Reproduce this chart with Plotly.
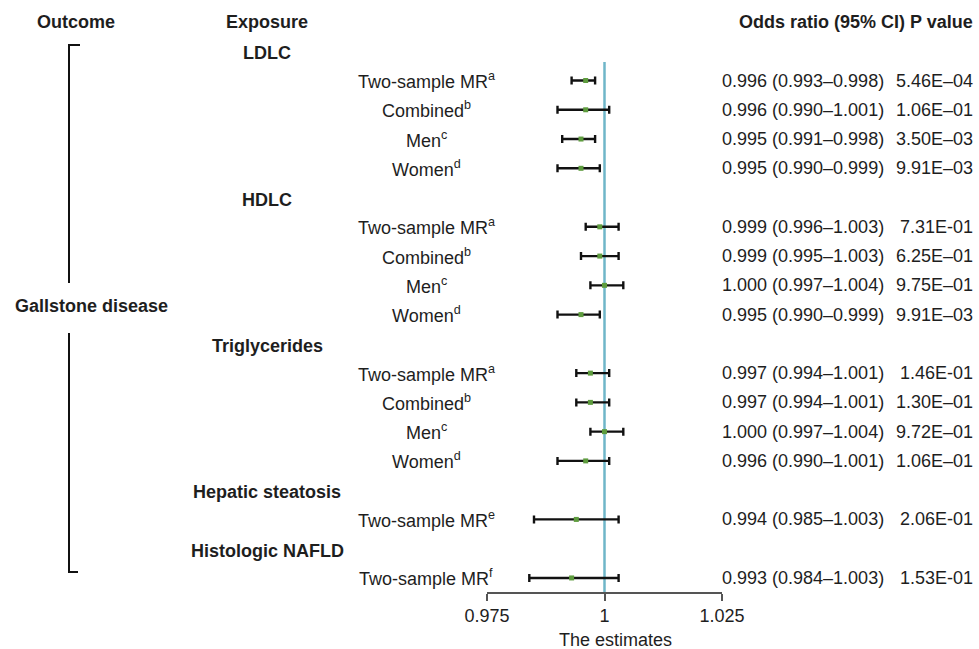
import plotly.graph_objects as go

# ---------------- data ----------------
groups = ["LDLC", "HDLC", "Triglycerides", "Hepatic steatosis", "Histologic NAFLD"]
subgroups = [
    ["Two-sample MR<sup>a</sup>", "Combined<sup>b</sup>", "Men<sup>c</sup>", "Women<sup>d</sup>"],
    ["Two-sample MR<sup>a</sup>", "Combined<sup>b</sup>", "Men<sup>c</sup>", "Women<sup>d</sup>"],
    ["Two-sample MR<sup>a</sup>", "Combined<sup>b</sup>", "Men<sup>c</sup>", "Women<sup>d</sup>"],
    ["Two-sample MR<sup>e</sup>"],
    ["Two-sample MR<sup>f</sup>"],
]
odds_ratio = [
    [0.996, 0.996, 0.995, 0.995],
    [0.999, 0.999, 1.000, 0.995],
    [0.997, 0.997, 1.000, 0.996],
    [0.994],
    [0.993],
]
ci_low = [
    [0.993, 0.990, 0.991, 0.990],
    [0.996, 0.995, 0.997, 0.990],
    [0.994, 0.994, 0.997, 0.990],
    [0.985],
    [0.984],
]
ci_high = [
    [0.998, 1.001, 0.998, 0.999],
    [1.003, 1.003, 1.004, 0.999],
    [1.001, 1.001, 1.004, 1.001],
    [1.003],
    [1.003],
]
p_values = [
    ["5.46E\u201304", "1.06E\u201301", "3.50E\u201303", "9.91E\u201303"],
    ["7.31E-01", "6.25E\u201301", "9.75E\u201301", "9.91E\u201303"],
    ["1.46E-01", "1.30E\u201301", "9.72E\u201301", "1.06E\u201301"],
    ["2.06E-01"],
    ["1.53E-01"],
]
outcome = "Gallstone disease"
x_ticks = [0.975, 1, 1.025]
x_tick_labels = ["0.975", "1", "1.025"]
null_value = 1

# ---------------- layout helpers ----------------
W, H = 979, 649
FONT = "Liberation Sans, Arial, Helvetica, sans-serif"
TXT = "#1e1e1e"


def px(p):
    return p / W


def py(p):
    return 1 - p / H


row_top, row_step = 22.0, 29.26  # pixel y of row 0 and spacing
axis_px = 592.0

rows_y, rows_x, rows_lo, rows_hi, rows_lab, rows_txt, rows_p = [], [], [], [], [], [], []
group_rows = []
idx = 1
for g, subs, ors, los, his, ps in zip(groups, subgroups, odds_ratio, ci_low, ci_high, p_values):
    group_rows.append((g, idx))
    idx += 1
    for s, o, lo, hi, p in zip(subs, ors, los, his, ps):
        rows_y.append(idx)
        rows_x.append(o)
        rows_lo.append(lo)
        rows_hi.append(hi)
        rows_lab.append(s)
        rows_txt.append(f"{o:.3f} ({lo:.3f}\u2013{hi:.3f})")
        rows_p.append(p)
        idx += 1

fig = go.Figure()
fig.add_trace(go.Scatter(
    x=rows_x, y=rows_y, mode="markers",
    marker=dict(symbol="square", size=5, color="#5e9c3e", line=dict(width=0)),
    error_x=dict(type="data", symmetric=False,
                 array=[h - o for h, o in zip(rows_hi, rows_x)],
                 arrayminus=[o - l for o, l in zip(rows_x, rows_lo)],
                 color="#111111", thickness=2.4, width=4),
    showlegend=False, hoverinfo="skip", cliponaxis=False,
))

y_bottom = (axis_px - row_top) / row_step
y_topv = -row_top / row_step

fig.add_shape(type="line", xref="x", yref="y", x0=null_value, x1=null_value,
              y0=(62 - row_top) / row_step, y1=y_bottom,
              line=dict(color="#6fb6c8", width=2.5), layer="below")

annotations = []
annotations.append(dict(x=px(76), y=0, text="<b>Outcome</b>", xanchor="center"))
annotations.append(dict(x=px(267), y=0, text="<b>Exposure</b>", xanchor="center"))
annotations.append(dict(x=px(975), y=0, text="<b>Odds ratio (95% CI) P value</b>", xanchor="right"))
for g, r in group_rows:
    annotations.append(dict(x=px(267), y=r, text=f"<b>{g}</b>", xanchor="center", yshift=-2))
for y, lab, t, p in zip(rows_y, rows_lab, rows_txt, rows_p):
    annotations.append(dict(x=px(426), y=y, text=lab, xanchor="center"))
    annotations.append(dict(x=px(720), y=y, text=t, xanchor="left"))
    annotations.append(dict(x=px(975), y=y, text=p, xanchor="right"))

for a in annotations:
    a.update(xref="paper", yref="y", showarrow=False, yanchor="middle",
             font=dict(family=FONT, size=18, color=TXT))

annotations.append(dict(x=px(91), y=py(306), xref="paper", yref="paper", showarrow=False,
                        text=f"<b>{outcome}</b>", xanchor="center", yanchor="middle",
                        font=dict(family=FONT, size=18, color=TXT)))
annotations.append(dict(x=px(615), y=py(640), xref="paper", yref="paper", showarrow=False,
                        text="The estimates", xanchor="center", yanchor="middle",
                        font=dict(family=FONT, size=18, color=TXT)))

bx, btop, bbot = 69, 45, 572
fig.add_shape(type="path", xref="paper", yref="paper",
              path=f"M {px(80)} {py(btop)} L {px(bx)} {py(btop)} L {px(bx)} {py(283)}",
              line=dict(color="#111111", width=2))
fig.add_shape(type="path", xref="paper", yref="paper",
              path=f"M {px(bx)} {py(333)} L {px(bx)} {py(bbot)} L {px(78)} {py(bbot)}",
              line=dict(color="#111111", width=2))

fig.update_layout(
    width=W, height=H, margin=dict(l=0, r=0, t=0, b=0, pad=0, autoexpand=False),
    paper_bgcolor="white", plot_bgcolor="white",
    annotations=annotations,
    xaxis=dict(domain=[px(487), px(722)], range=[0.975, 1.025],
               showgrid=False, zeroline=False, showline=True, linecolor="#555555", linewidth=1.5,
               ticks="outside", ticklen=7, tickwidth=1.5, tickcolor="#555555",
               tickvals=x_ticks, ticktext=x_tick_labels, automargin=False,
               tickfont=dict(family=FONT, size=18, color=TXT), fixedrange=True),
    yaxis=dict(domain=[1 - axis_px / H, 1], range=[y_bottom, y_topv], automargin=False,
               visible=False, showgrid=False, zeroline=False, fixedrange=True),
)

fig.write_html("out.html", config={"displayModeBar": False},
               post_script="document.body.style.margin='0';")
